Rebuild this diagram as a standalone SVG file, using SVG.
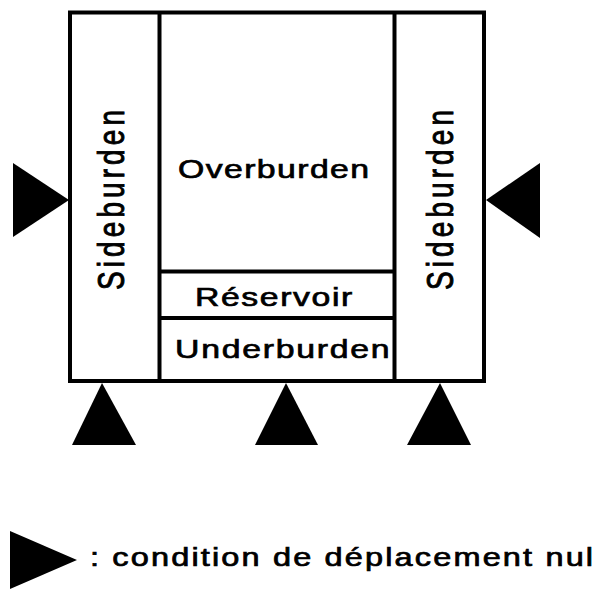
<svg xmlns="http://www.w3.org/2000/svg" width="601" height="591" viewBox="0 0 601 591">
<style>
  .box { fill: #fff; stroke: #000; stroke-width: 4; }
  .ln { stroke: #000; stroke-width: 4; fill: none; }
  .tri { fill: #000; stroke: none; }
  .lbl { font-family: "Liberation Sans", Arial, sans-serif; font-size: 26px; fill: #000; stroke: #000; stroke-width: 0.7; }
  .side { font-family: "Liberation Sans", Arial, sans-serif; font-size: 28px; fill: #000; stroke: #000; stroke-width: 0.7; }
  .leg { font-family: "Liberation Sans", Arial, sans-serif; font-size: 25px; fill: #000; stroke: #000; stroke-width: 0.7; }
</style>
<rect width="601" height="591" fill="#fff"/>
<g id="outer">
  <rect class="box" x="70" y="12.5" width="414" height="368.5"/>
</g>
<g id="sideburden-left">
  <line class="ln" x1="159.5" y1="12.5" x2="159.5" y2="381"/>
  <text class="side" transform="translate(124,200) scale(1.35,1) rotate(-90)" text-anchor="middle" textLength="180" lengthAdjust="spacing">Sideburden</text>
</g>
<g id="overburden">
  <text class="lbl" transform="translate(178,178) scale(1.3,1)" textLength="147" lengthAdjust="spacing">Overburden</text>
</g>
<g id="reservoir">
  <line class="ln" x1="159.5" y1="271.5" x2="394.5" y2="271.5"/>
  <text class="lbl" transform="translate(195,306) scale(1.3,1)" textLength="121" lengthAdjust="spacing">Réservoir</text>
</g>
<g id="underburden">
  <line class="ln" x1="159.5" y1="318" x2="394.5" y2="318"/>
  <text class="lbl" transform="translate(175,358) scale(1.3,1)" textLength="165" lengthAdjust="spacing">Underburden</text>
</g>
<g id="sideburden-right">
  <line class="ln" x1="394.5" y1="12.5" x2="394.5" y2="381"/>
  <text class="side" transform="translate(453,200) scale(1.35,1) rotate(-90)" text-anchor="middle" textLength="180" lengthAdjust="spacing">Sideburden</text>
</g>
<g id="supports">
  <polygon class="tri" points="13,163 13,237 69,200"/>
  <polygon class="tri" points="540,163 540,238 486,200"/>
  <polygon class="tri" points="102,383 72,445 136,445"/>
  <polygon class="tri" points="286,383 255,445 318,445"/>
  <polygon class="tri" points="440,383 407,445 471,445"/>
</g>
<g id="legend">
  <polygon class="tri" points="10,531 10,589 77,560"/>
  <text class="leg" transform="translate(90,566) scale(1.3,1)" textLength="387" lengthAdjust="spacing">: condition de déplacement nul</text>
</g>
</svg>
